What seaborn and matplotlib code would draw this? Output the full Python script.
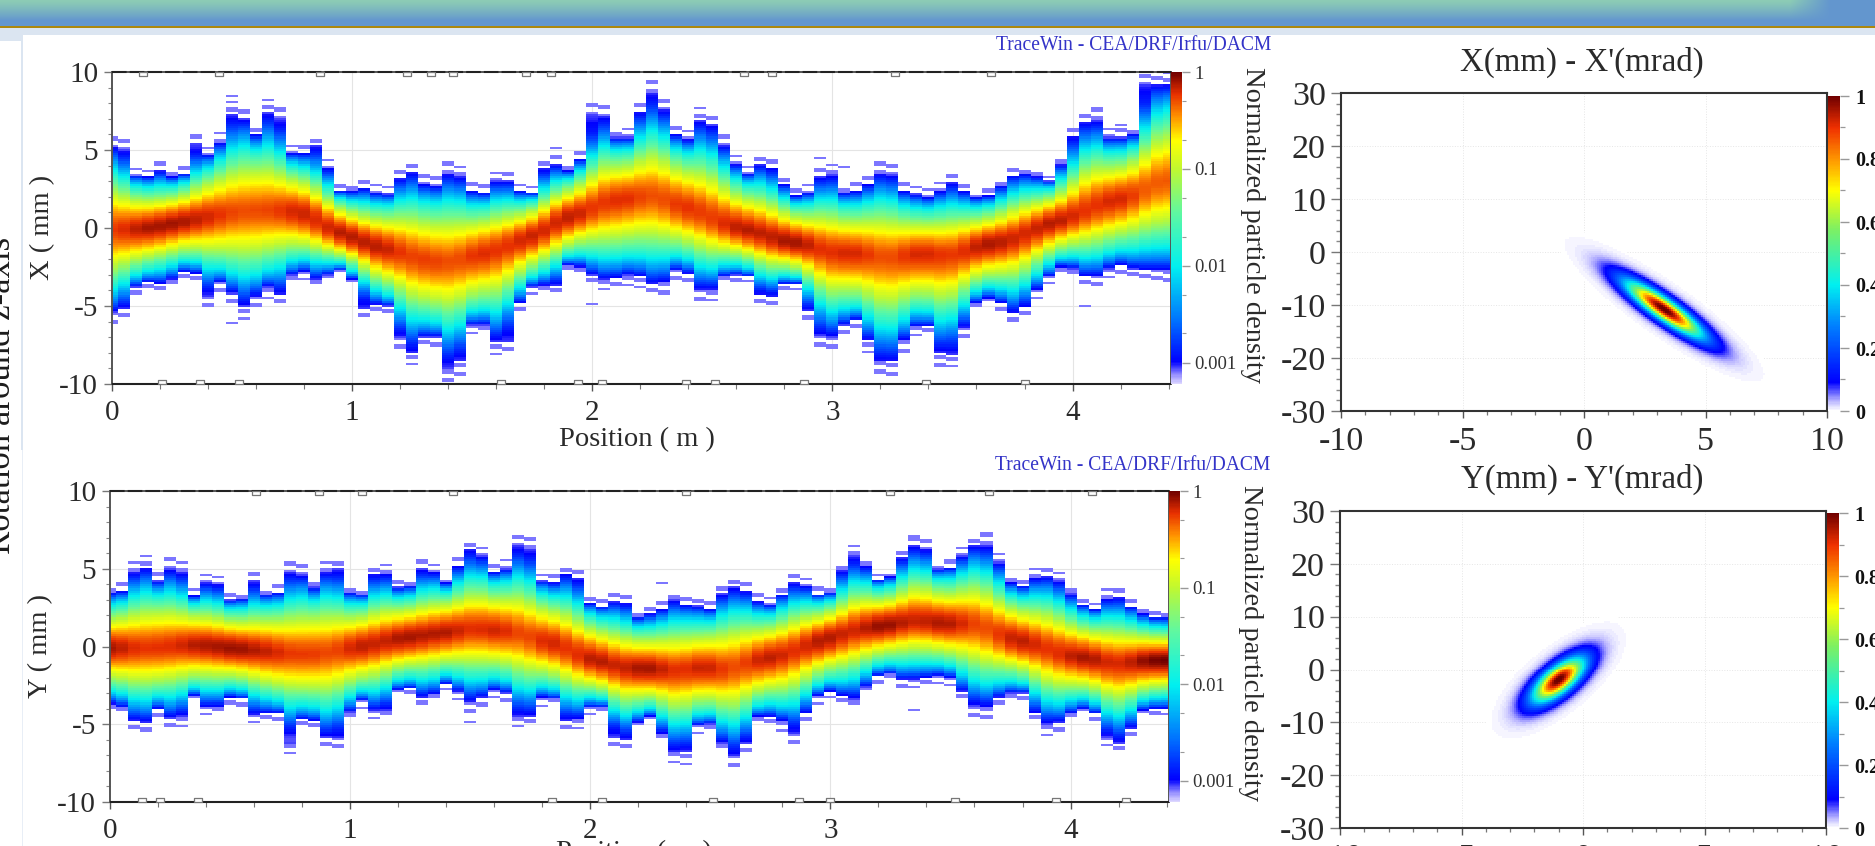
import numpy as np
import pandas as pd
import matplotlib
matplotlib.use("Agg")
import matplotlib.pyplot as plt
from matplotlib.colors import LinearSegmentedColormap, LogNorm, Normalize
from matplotlib.patches import Rectangle
from matplotlib.path import Path
import seaborn as sns

# Envelope of the beam, one value per 0.05 m step (0 .. 4.4 m)
X_TOP = [5.2,5.0,3.4,3.3,3.7,3.3,3.5,5.4,4.7,5.5,7.3,7.0,6.0,7.4,7.0,4.8,4.8,5.3,3.9,2.4,
         2.4,2.6,2.3,2.2,3.2,3.6,2.8,2.7,3.5,3.3,2.4,2.3,3.0,3.0,2.4,2.3,3.9,4.1,3.7,4.4,
         7.3,7.2,5.8,5.8,7.5,8.7,7.6,6.0,5.7,6.9,6.6,5.3,4.1,3.5,4.1,3.9,2.8,2.1,2.3,3.3,
         3.4,2.3,2.4,2.8,3.5,3.4,2.4,2.2,2.0,2.4,2.9,2.4,2.0,2.1,2.7,3.4,3.5,3.3,3.0,4.1,
         5.9,6.8,6.9,5.8,5.8,6.0,9.2,9.2,9.2]
X_BOTTOM = [-5.4,-5.2,-3.8,-3.5,-3.6,-3.3,-2.8,-2.9,-4.4,-3.5,-4.2,-5.0,-4.4,-3.8,-4.3,-3.0,-2.8,-3.3,-3.0,-2.7,
            -3.3,-5.2,-4.9,-5.0,-7.0,-8.0,-7.0,-7.0,-9.0,-8.6,-6.2,-6.2,-7.3,-7.3,-4.8,-3.8,-3.7,-3.7,-2.4,-2.5,
            -3.0,-3.3,-3.2,-3.0,-3.1,-3.6,-3.5,-2.7,-2.9,-4.0,-4.0,-3.1,-3.0,-3.1,-4.3,-4.4,-3.6,-3.6,-5.3,-6.9,
            -7.0,-6.2,-5.9,-7.2,-8.6,-8.6,-7.2,-6.3,-6.3,-8.0,-8.1,-6.4,-4.8,-4.5,-4.8,-5.5,-5.1,-4.0,-3.1,-2.5,
            -2.6,-3.1,-3.1,-2.6,-2.4,-2.6,-2.7,-2.7,-2.7]
X_CENTRE = [-0.1,-0.1,-0.1,0.0,0.1,0.3,0.4,0.6,0.7,0.9,1.0,1.1,1.1,1.1,1.2,1.1,1.0,0.6,0.1,-0.3,
            -0.7,-1.0,-1.2,-1.4,-1.6,-1.9,-2.0,-2.2,-2.3,-2.1,-1.8,-1.6,-1.4,-1.2,-0.9,-0.5,-0.1,0.3,0.7,1.0,
            1.4,1.7,1.8,1.9,2.0,2.3,2.0,1.5,1.2,1.0,0.7,0.3,0.0,-0.2,-0.4,-0.6,-0.8,-1.0,-1.1,-1.5,
            -1.6,-1.6,-1.6,-1.7,-1.9,-2.0,-1.8,-1.6,-1.6,-1.7,-1.9,-1.6,-1.2,-1.0,-0.9,-0.7,-0.4,-0.1,0.3,0.5,
            0.8,1.1,1.4,1.7,1.9,2.0,2.8,3.0,3.0]

Y_TOP = [3.5,3.6,4.8,5.1,4.2,5.0,4.8,3.3,4.1,4.0,3.0,3.1,4.2,3.4,3.5,4.8,4.6,3.8,4.8,5.0,
         3.5,3.4,4.7,4.7,3.8,3.9,5.0,4.8,4.1,5.2,6.3,5.8,4.8,5.0,6.5,6.3,4.2,4.1,4.7,4.4,
         2.8,2.6,2.9,2.8,1.9,2.1,2.4,3.0,2.7,2.6,2.4,3.4,3.8,3.6,2.9,2.7,3.4,4.1,3.9,3.4,
         3.5,4.9,5.8,5.2,4.3,4.5,5.7,6.5,6.3,5.0,5.1,5.8,6.5,6.5,5.4,4.1,3.9,4.4,4.5,4.2,
         3.4,2.7,2.4,3.1,3.2,2.6,2.1,1.9,1.9]
Y_BOTTOM = [-3.7,-3.9,-4.8,-4.9,-4.0,-4.6,-4.5,-3.2,-3.9,-3.9,-3.3,-3.4,-4.4,-4.3,-4.3,-6.2,-4.7,-4.8,-5.8,-5.9,
            -4.2,-3.5,-4.1,-4.1,-2.8,-2.7,-3.3,-3.1,-2.4,-2.9,-3.6,-3.3,-2.8,-3.0,-4.5,-4.5,-3.3,-3.4,-4.8,-4.7,
            -3.9,-3.9,-5.8,-6.0,-4.9,-4.5,-5.6,-6.8,-6.8,-5.1,-5.0,-6.2,-7.1,-6.2,-4.5,-4.5,-4.8,-5.6,-4.3,-3.2,
            -2.9,-3.2,-3.4,-2.6,-1.9,-1.8,-2.1,-2.1,-2.0,-1.9,-2.0,-2.9,-3.8,-3.9,-3.3,-3.0,-3.0,-4.3,-5.0,-4.9,
            -4.3,-4.0,-4.3,-5.8,-6.2,-5.3,-4.1,-4.0,-4.0]
Y_CENTRE = [-0.1,-0.1,-0.1,-0.1,-0.1,0.0,0.1,0.1,0.1,0.0,-0.1,-0.2,-0.2,-0.3,-0.4,-0.5,-0.5,-0.5,-0.4,-0.3,
            -0.1,0.0,0.2,0.3,0.5,0.6,0.7,0.8,0.9,1.0,1.3,1.2,1.0,1.0,0.9,0.7,0.4,0.2,-0.1,-0.5,
            -0.8,-1.0,-1.3,-1.5,-1.4,-1.4,-1.5,-1.7,-1.5,-1.3,-1.4,-1.6,-1.5,-1.1,-0.9,-0.7,-0.5,-0.3,0.0,0.3,
            0.6,0.9,1.0,1.2,1.3,1.4,1.5,1.9,1.6,1.5,1.4,1.5,1.6,1.3,0.9,0.5,0.3,0.1,-0.1,-0.4,
            -0.6,-0.7,-0.8,-1.1,-1.3,-1.0,-0.9,-0.9,-0.9]

# Lost particles seen as single dashes away from the envelope (position, mm)
X_STRAY = [(0.5, -6.1), (2.0, -4.8), (1.85, 5.2), (2.95, 4.5), (3.05, 3.9), (4.05, -5.0), (4.2, 6.6), (0.5, 8.5)]
Y_STRAY = [(2.3, 4.1), (3.35, -4.0), (1.5, -4.8), (3.35, 7.1), (3.65, 7.3)]

# Aperture markers along the top and bottom edge of the envelope plots (m)
X_MARKS_TOP = [0.13, 0.445, 0.866, 1.23, 1.33, 1.42, 1.725, 1.83, 2.63, 2.75, 3.26, 3.66]
X_MARKS_BOTTOM = [0.21, 0.366, 0.527, 1.62, 1.94, 2.04, 2.39, 2.51, 2.88, 3.39, 3.8]
Y_MARKS_TOP = [0.61, 0.87, 1.05, 1.43, 2.40, 3.25, 3.66, 4.09]
Y_MARKS_BOTTOM = [0.135, 0.21, 0.365, 1.84, 2.05, 2.51, 2.87, 3.0, 3.52, 3.94, 4.23]

# Phase space ellipses: centre (mm, mrad), tilt (deg on screen), spreads (px on screen)
XX_CENTRE, XX_TILT, XX_SPREAD = (3.3, -10.8), -35, (32, 7.2)
YY_CENTRE, YY_TILT, YY_SPREAD = (-1.0, -2.0), 39.4, (22, 9)

LOG_TICKS = [1, 0.1, 0.01, 0.001]
LOG_LABELS = ["1", "0.1", "0.01", "0.001"]
LOG_MINOR = [0.5, 0.2, 0.05, 0.02, 0.005, 0.002]
LIN_TICKS = [0, 0.2, 0.4, 0.6, 0.8, 1]
LIN_LABELS = ["0", "0.2", "0.4", "0.6", "0.8", "1"]

W, H = 1875, 846
SERIF = "Liberation Serif"
TEXT = "#2a2a2a"
DX, DY, N_ROWS = 0.05, 20 / 150, 150

sns.set_style("white")
plt.rcParams["font.family"] = [SERIF, "DejaVu Serif"]

log_cmap = LinearSegmentedColormap.from_list("log_jet", [
    (0.00, "#dcd6ff"), (0.03, "#8f88ff"), (0.07, "#0000ff"), (0.20, "#0070ff"),
    (0.375, "#00f0f0"), (0.55, "#60f8a0"), (0.69, "#c0f830"), (0.78, "#ffff00"),
    (0.86, "#ff9000"), (0.93, "#e83000"), (1.00, "#700000")])
lin_cmap = LinearSegmentedColormap.from_list("lin_jet", [
    (0.00, "#ffffff"), (0.03, "#b8b4ff"), (0.09, "#0000ff"), (0.27, "#0080ff"),
    (0.40, "#00f0f0"), (0.58, "#80f060"), (0.70, "#ffff00"), (0.79, "#ffa000"),
    (0.90, "#f03000"), (1.00, "#700000")])

fig = plt.figure(figsize=(W / 100, H / 100), dpi=100, facecolor="white")


def px_axes(left, top, right, bottom):
    return fig.add_axes([left / W, 1 - bottom / H, (right - left) / W, (bottom - top) / H])


def px_text(x, y, s, **kws):
    kws.setdefault("ha", "center")
    kws.setdefault("va", "center")
    kws.setdefault("color", TEXT)
    return fig.text(x / W, 1 - y / H, s, **kws)


def px_rect(x0, y0, x1, y1, color):
    fig.patches.append(Rectangle((x0 / W, 1 - y1 / H), (x1 - x0) / W, (y1 - y0) / H,
                                 transform=fig.transFigure, color=color, lw=0, zorder=-5))


def draw_page():
    # slide header and page background
    ax = px_axes(0, 0, W, 26)
    rows = np.linspace(0, 1, 26)
    top, low = np.array([0.55, 0.80, 0.71]), np.array([0.39, 0.59, 0.81])
    grad = np.array([top + (low - top) * min(r * 1.25, 1) ** 1.2 for r in rows])
    img = np.repeat(grad[:, None, :], 188, axis=1)
    for c in range(180, 188):
        blend = min((c - 179) / 4, 1)
        img[:, c] = grad * (1 - blend) + low * blend
    ax.imshow(img, aspect="auto", interpolation="bilinear")
    ax.axis("off")
    px_rect(0, 26, W, 28, "#ad870c")
    px_rect(0, 28, W, 35, "#dbe5f1")
    px_rect(0, 35, 23, 41, "#dbe5f1")
    px_rect(21, 41, 23, 450, "#dbe5f1")
    px_rect(22, 450, 23, H, "#e8eef6")
    px_text(18, 395, "Rotation around z-axis", rotation=90, fontsize=25, ha="right", color="#1c1c1c")


def envelope_grid(top, bottom, centre, stray):
    top, bottom, centre = np.array(top), np.array(bottom), np.array(centre)
    rows = 10 - (np.arange(N_ROWS) + 0.5) * DY
    cols = np.arange(len(top)) * DX
    width = top - bottom
    # narrow columns reach a higher peak density than wide ones
    peak = -0.35 * (width - width.min()) / (width.max() - width.min())
    dist = rows[:, None] - centre[None, :]
    t = np.where(dist > 0, dist / (top - centre)[None, :], -dist / (centre - bottom)[None, :])
    own = peak[None, :] + (-3.05 - peak[None, :]) * np.minimum(t, 1.5) ** 1.6

    # the inside of the beam changes slowly along z, only the edge follows the steps
    soft = own.copy()
    for _ in range(2):
        padded = np.pad(soft, ((0, 0), (1, 1)), mode="edge")
        soft = 0.25 * padded[:, :-2] + 0.5 * padded[:, 1:-1] + 0.25 * padded[:, 2:]
    edge = np.clip(t, 0, 1) ** 4
    logd = edge * own + (1 - edge) * soft

    grid = np.full((N_ROWS, len(top)), np.nan)
    inside = t <= 1
    grid[inside] = 10 ** logd[inside]
    # thin dashes just outside the solid part
    for r, i in zip(*np.where((t > 1) & (t < 1.14))):
        if (r * 3 + i * 5) % 4 < 2:
            grid[r, i] = 0.0008
    for pos, mm in stray:
        grid[int((10 - mm) / DY), int(round(pos / DX))] = 0.0008
    return pd.DataFrame(grid, index=np.round(rows, 3), columns=np.round(cols, 2))


def phase_grid(centre, tilt, spread, xpx, ypx):
    xs = -10 + (np.arange(243) + 0.5) * 20 / 243
    ys = 30 - (np.arange(159) + 0.5) * 60 / 159
    gx, gy = np.meshgrid(xs, ys)
    sx, sy = (gx - centre[0]) * xpx, (gy - centre[1]) * ypx
    th = np.deg2rad(tilt)
    u = sx * np.cos(th) + sy * np.sin(th)
    v = -sx * np.sin(th) + sy * np.cos(th)
    r2 = (u / spread[0]) ** 2 + (v / spread[1]) ** 2
    dens = np.exp(-r2 / 2) + 0.018 * np.exp(-r2 / 2 / 2.0 ** 2)
    dens[dens < 0.0025] = np.nan
    return pd.DataFrame(dens, index=np.round(ys, 3), columns=np.round(xs, 3))


def style_spines(ax, color="#555555", lw=1.4):
    for side in ax.spines:
        ax.spines[side].set_visible(True)
        ax.spines[side].set_color(color)
        ax.spines[side].set_linewidth(lw)


def envelope_panel(box, cbar_box, grid, marks_top, marks_bottom, ylabel, ylabel_xy, xlabel_xy, brand_xy, dens_xy):
    ax = px_axes(*box)
    cax = px_axes(*cbar_box)
    sns.heatmap(grid, ax=ax, cbar_ax=cax, cmap=log_cmap, norm=LogNorm(vmin=0.0006, vmax=1),
                xticklabels=False, yticklabels=False, linewidths=0)

    col = lambda x: (np.asarray(x, dtype=float) + DX / 2) / DX
    row = lambda y: (10 - np.asarray(y, dtype=float)) / DY
    ax.set_xlim(col(0), col(4.41))
    ax.set_ylim(row(-10), row(10))
    ax.set_xlabel("")
    ax.set_ylabel("")

    # grid sits behind the mesh
    ax.vlines(col([1, 2, 3, 4]), row(-10), row(10), color="#e4e4e4", lw=0.8, zorder=0)
    ax.hlines(row([-5, 0, 5]), col(0), col(4.41), color="#e4e4e4", lw=0.8, zorder=0)

    style_spines(ax)
    ax.hlines(row(10), col(0), col(4.41), color="#222222", lw=1.5, linestyles=(0, (7, 1.5)), clip_on=False, zorder=4)
    ax.hlines(row(-10), col(0), col(4.41), color="#222222", lw=1.5, clip_on=False, zorder=4)
    box_marker = Path([(-1, -0.5), (1, -0.5), (1, 0.5), (-1, 0.5), (-1, -0.5)], closed=True)
    for marks, mm in ((marks_top, 9.85), (marks_bottom, -9.85)):
        ax.plot(col(marks), row(np.full(len(marks), mm)), ls="", marker=box_marker, ms=6,
                mfc="white", mec="#777777", mew=0.9, clip_on=False, zorder=5)

    ax.set_xticks(col([0, 1, 2, 3, 4]), ["0", "1", "2", "3", "4"])
    ax.set_xticks(col(np.arange(0.2, 4.41, 0.2)), minor=True)
    ax.set_yticks(row([10, 5, 0, -5, -10]), ["10", "5", "0", "-5", "-10"])
    ax.set_yticks(row(np.arange(-9, 10, 1)), minor=True)
    ax.tick_params(axis="y", which="major", length=6, width=1, color="#777777", pad=4, labelsize=21,
                   labelcolor=TEXT, left=True, labelrotation=0)
    ax.tick_params(axis="y", which="minor", length=3, width=0.8, color="#888888", left=True)
    ax.tick_params(axis="x", which="major", length=5, width=1, color="#555555", pad=6.5, labelsize=21,
                   labelcolor=TEXT, bottom=True, labelrotation=0)
    ax.tick_params(axis="x", which="minor", length=3.5, width=0.8, color="#777777", bottom=True)

    cax.set_yticks(LOG_TICKS, LOG_LABELS)
    cax.set_yticks(LOG_MINOR, minor=True)
    cax.tick_params(which="major", length=6, width=1, color="#999999", pad=3, labelsize=13.5, labelcolor="#333333", right=True)
    cax.tick_params(which="minor", length=3, width=0.8, color="#999999", right=True)

    px_text(ylabel_xy[0], ylabel_xy[1], ylabel, rotation=90, fontsize=20.5)
    px_text(xlabel_xy[0], xlabel_xy[1], "Position ( m )", fontsize=20.5)
    px_text(brand_xy[0], brand_xy[1], "TraceWin - CEA/DRF/Irfu/DACM", fontsize=14.1, color="#3434c8", ha="right")
    px_text(dens_xy[0], dens_xy[1], "Normalized particle density", rotation=270, fontsize=20.5)
    return ax


def phase_panel(box, cbar_box, grid, title, title_xy):
    ax = px_axes(*box)
    cax = px_axes(*cbar_box)
    sns.heatmap(grid, ax=ax, cbar_ax=cax, cmap=lin_cmap, norm=Normalize(vmin=0, vmax=1),
                xticklabels=False, yticklabels=False, linewidths=0)
    ncols, nrows = grid.shape[1], grid.shape[0]
    col = lambda x: (np.asarray(x, dtype=float) + 10) / 20 * ncols
    row = lambda y: (30 - np.asarray(y, dtype=float)) / 60 * nrows

    ax.vlines(col([-5, 0, 5]), 0, nrows, color="#e6e6e6", lw=0.7, linestyles=":", zorder=0)
    ax.hlines(row([-20, -10, 0, 10, 20]), 0, ncols, color="#e6e6e6", lw=0.7, linestyles=":", zorder=0)
    style_spines(ax, color="#333333", lw=1.5)

    ax.set_xticks(col([-10, -5, 0, 5, 10]), ["-10", "-5", "0", "5", "10"])
    ax.set_xticks(col(np.arange(-9, 10, 1)), minor=True)
    ax.set_yticks(row([30, 20, 10, 0, -10, -20, -30]), ["30", "20", "10", "0", "-10", "-20", "-30"])
    ax.set_yticks(row(np.arange(-28, 30, 2)), minor=True)
    ax.tick_params(axis="y", which="major", length=7, width=1, color="#777777", pad=4, labelsize=24.5,
                   labelcolor=TEXT, left=True, labelrotation=0)
    ax.tick_params(axis="y", which="minor", length=3.5, width=1, color="#888888", left=True)
    ax.tick_params(axis="x", which="major", length=5, width=1, color="#555555", pad=6.5, labelsize=24.5,
                   labelcolor=TEXT, bottom=True, labelrotation=0)
    ax.tick_params(axis="x", which="minor", length=3, width=0.9, color="#777777", bottom=True)

    cax.set_yticks(LIN_TICKS, LIN_LABELS)
    cax.set_yticks(np.arange(0.1, 1, 0.2), minor=True)
    cax.tick_params(which="major", length=6.5, width=1, color="#999999", pad=4.5, labelsize=14.5, labelcolor="#111111", right=True)
    cax.tick_params(which="minor", length=3.5, width=0.9, color="#999999", right=True)
    for lab in cax.get_yticklabels():
        lab.set_fontweight("bold")

    px_text(title_xy[0], title_xy[1], title, fontsize=23.7)
    return ax


draw_page()

envelope_panel((112, 72, 1171, 384), (1171, 72, 1182, 384),
               envelope_grid(X_TOP, X_BOTTOM, X_CENTRE, X_STRAY),
               X_MARKS_TOP, X_MARKS_BOTTOM, "X ( mm )", (43, 227), (637, 440), (1271, 46), (1253, 225))
envelope_panel((110, 491, 1169, 802), (1169, 491, 1180, 802),
               envelope_grid(Y_TOP, Y_BOTTOM, Y_CENTRE, Y_STRAY),
               Y_MARKS_TOP, Y_MARKS_BOTTOM, "Y ( mm )", (41, 646), (634, 853), (1270, 465), (1251, 643))

phase_panel((1341, 93, 1827, 411), (1828, 96, 1840, 411),
            phase_grid(XX_CENTRE, XX_TILT, XX_SPREAD, 24.3, 5.3),
            "X(mm) - X'(mrad)", (1582, 62))
phase_panel((1340, 511, 1826, 828), (1827, 513, 1839, 828),
            phase_grid(YY_CENTRE, YY_TILT, YY_SPREAD, 24.3, 5.3),
            "Y(mm) - Y'(mrad)", (1582, 479))

fig.savefig("out.png", dpi=100, facecolor="white")
